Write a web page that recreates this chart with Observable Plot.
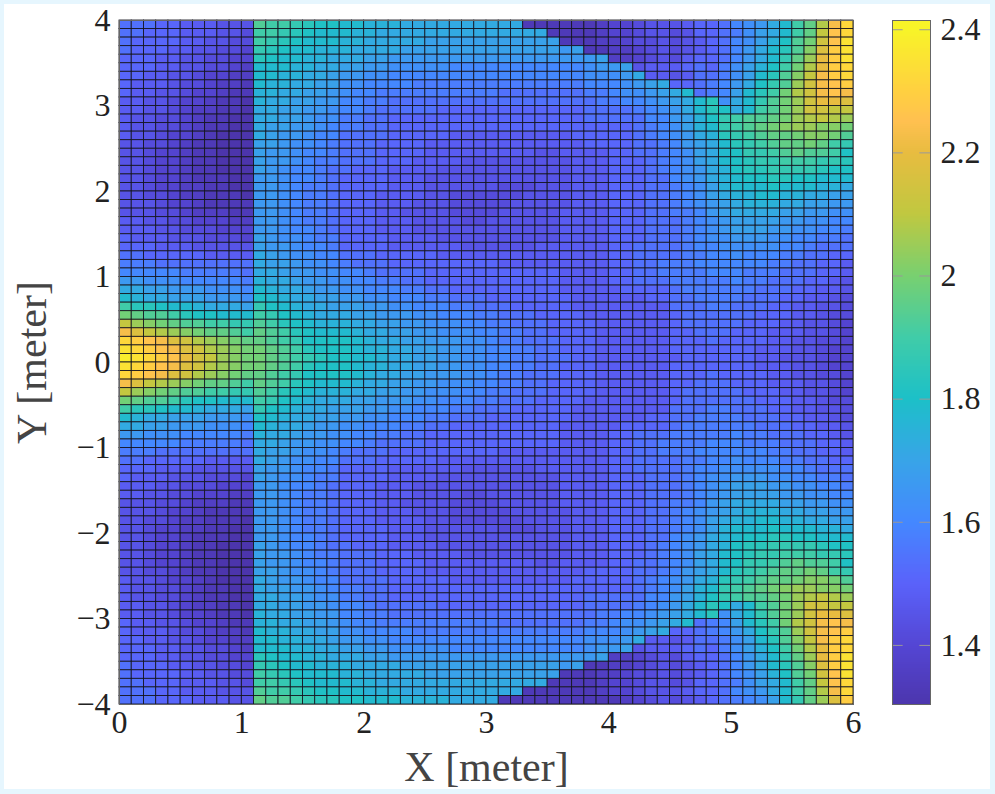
<!DOCTYPE html>
<html>
<head>
<meta charset="utf-8">
<script src="https://cdn.jsdelivr.net/npm/d3@7"></script>
<script src="https://cdn.jsdelivr.net/npm/@observablehq/plot@0.6"></script>
<style>
html,body{margin:0;padding:0;background:#e6f6fe;overflow:hidden}
#paper{position:absolute;left:4px;top:4px;width:986px;height:785px;background:#fff}
#chart{position:absolute;left:0;top:0;width:995px;height:794px}
#chart svg{position:absolute;background:transparent;max-width:none}
</style>
</head>
<body>
<div id="paper"></div>
<div id="chart"></div>
<script>
// Each row runs left to right, from y = 4 down to y = -4. One character per cell,
// indexing valueLevels below. Spaces only separate column groups.
const levelCodes = "0123456789abcdefghijklmnopqrstuvwxyzA";
const levelStart = 1.30, levelStep = 0.03;
const cellRows = [
"88877666555 lkkjihhgg fffeeeeeee eee1111112 3345556778 abcegkmqvy",
"88777666554 kkjihgggf feeeeeeeee eeeee11112 3345545778 9bdegkmrwy",
"87777665544 kjihgggff eeeeeddddd dddddd1112 2344545678 abdfhlnswz",
"87776655443 jihggfffe eeeddddddd ddddddcd11 2234545678 acegilotxz",
"77766554433 ihggffeee ddcccccccc cccccccccd 2234546778 acegjmpuxz",
"77766554432 gggffeedd ccbbbbbaaa aaaaaaaabc cd56667879 bdfhknquxy",
"77665543322 ggffeedcc bbaaaaaaaa aaaaaaaabb bce6656889 bdgilorvxy",
"76665443221 gffeeddbb aaaa999999 99999999aa abcde7789a cehjlpsvwx",
"76655433211 ffeeddcba a999999999 9888888899 abbcdeg89a dgiknqsvwv",
"66554332110 feeddccaa 9988888888 8888888889 9aabcdegib egjlnpsuut",
"66554322110 eeddccbaa 9888887777 7777777788 889abcegih egklnpssrr",
"65544321100 eeddcbb99 8877777777 7777777788 888aacdfhj kllmnpqrqp",
"65544321100 eddccba99 8877777777 7777777777 7789abdfgj klmnoppoon",
"65543321000 edccbaa88 8877777666 6666666777 7789abcefi jklmmnoonl",
"55443211000 ddcbba988 8777766666 6666666677 77889acdeg ijklmmnmkj",
"55433211000 dccbaa988 8777766666 6666556666 77889abdeg hjjklmllkh",
"55433211000 dccba9988 8777666655 5555555666 77789abdeg hijjkkkjji",
"55433211000 dcbaa9887 7766665555 5555555666 77789abcef hiijjjjihh",
"55433211100 ccbaa9877 7766655555 5555555666 77788abcef ghhiihhggg",
"55433221100 ccba99877 7766655555 5444555666 777889abdf ggghgggffe",
"55443221110 ccba99877 7666655444 4445555666 777889abde ffggffeedd",
"55543321111 ccba99877 7666555444 4455555666 777889abcd efffeeddcc",
"55544322211 ccba99877 7665555444 4555556666 7778899acd eeeeddccbb",
"66554433322 ccba99877 7666555544 5555556666 7778889abc ddddccbbaa",
"66655444333 ccbaa9877 7666555555 5555556666 7778889abc dddccbbaa9",
"76665554443 dcbba9977 7766665555 5555556666 7778889abb cccbbaa998",
"77766655555 dccbaa977 7766666655 5555666666 7788889aab bbbbaa9888",
"88777776666 edcbbaa88 8777776666 6666666666 77888899aa baaa998877",
"99988888888 eddcbba98 8877777777 7666666666 7788999aaa aaa9988776",
"aaaaa999998 eedccbbaa 9888877777 7777776666 77889999aa a999888776",
"ccbbbaaaaa9 feedccbba a998877777 7777776666 7788899999 a998887765",
"eeddcccbbba gfeedccbb aaa9988777 7777776666 6777789999 9988877665",
"gfeedddcccb hgfeeddcc bbaaa99888 7777777666 6667788999 9888776654",
"kiihggfeeed jhgfeeddd ccbbaaa998 8877777666 6666688899 8887766554",
"nmllkihhggg kjhgfeeed dcccbbaaa9 9888777766 6666678888 8877766544",
"rponmllkkjj lkihgfffe eddccbbbaa 9988877776 6666678888 8777665543",
"vtrqponmmlk mlkihgggf eeddccbbba a998877776 6666677888 7776665543",
"yxwvtsqponm mlkjhhhhg feeddcccbb a998887776 6666677787 7776655443",
"zyxwvtsqpon nmlkihhhg ffeeddccbb aa99887776 6666677777 7766655433",
"Azyxwusrpon nmlkjihhg gfeeddccbb aa99888776 6666667777 7766555433",
"zyxwvtsqpon nmlkihhhg ffeeddccbb aa99887776 6666677777 7766655433",
"yxwvtsqponm mlkjhhhhg feeddcccbb a998887776 6666677787 7776655443",
"vtrqponmmlk mlkihgggf eeddccbbba a998877776 6666677888 7776665543",
"rponmllkkjj lkihgfffe eddccbbbaa 9988877776 6666678888 8777665543",
"nmllkihhggg kjhgfeeed dcccbbaaa9 9888777766 6666678888 8877766544",
"kiihggfeeed jhgfeeddd ccbbaaa998 8877777666 6666688899 8887766554",
"gfeedddcccb hgfeeddcc bbaaa99888 7777777666 6667788999 9888776654",
"eeddcccbbba gfeedccbb aaa9988777 7777776666 6777789999 9988877665",
"ccbbbaaaaa9 feedccbba a998877777 7777776666 7788899999 a998887765",
"aaaaa999998 eedccbbaa 9888877777 7777776666 77889999aa a999888776",
"99988888888 eddcbba98 8877777777 7666666666 7788999aaa aaa9988776",
"88777776666 edcbbaa88 8777776666 6666666666 77888899aa baaa998877",
"77766655555 dccbaa977 7766666655 5555666666 7788889aab bbbbaa9888",
"76665554443 dcbba9977 7766665555 5555556666 7778889abb cccbbaa998",
"66655444333 ccbaa9877 7666555555 5555556666 7778889abc dddccbbaa9",
"66554433322 ccba99877 7666555544 5555556666 7778889abc ddddccbbaa",
"55544322211 ccba99877 7665555444 4555556666 7778899acd eeeeddccbb",
"55543321111 ccba99877 7666555444 4455555666 777889abcd efffeeddcc",
"55443221110 ccba99877 7666655444 4445555666 777889abde ffggffeedd",
"55433221100 ccba99877 7766655555 5444555666 777889abdf ggghgggffe",
"55433211100 ccbaa9877 7766655555 5555555666 77788abcef ghhiihhggg",
"55433211000 dcbaa9887 7766665555 5555555666 77789abcef hiijjjjihh",
"55433211000 dccba9988 8777666655 5555555666 77789abdeg hijjkkkjji",
"55433211000 dccbaa988 8777766666 6666556666 77889abdeg hjjklmllkh",
"55443211000 ddcbba988 8777766666 6666666677 77889acdeg ijklmmnmkj",
"65543321000 edccbaa88 8877777666 6666666777 7789abcefi jklmmnoonl",
"65544321100 eddccba99 8877777777 7777777777 7789abdfgj klmnoppoon",
"65544321100 eeddcbb99 8877777777 7777777788 888aacdfhj kllmnpqrqp",
"66554322110 eeddccbaa 9888887777 7777777788 889abcegih egklnpssrr",
"66554332110 feeddccaa 9988888888 8888888889 9aabcdegib egjlnpsuut",
"76655433211 ffeeddcba a999999999 9888888899 abbcdeg89a dgiknqsvwv",
"76665443221 gffeeddbb aaaa999999 99999999aa abcde7789a cehjlpsvwx",
"77665543322 ggffeedcc bbaaaaaaaa aaaaaaaabb bce6656889 bdgilorvxy",
"77766554432 gggffeedd ccbbbbbaaa aaaaaaaabc cd56667879 bdfhknquxy",
"77766554433 ihggffeee ddcccccccc cccccccccd 2234546778 acegjmpuxz",
"87776655443 jihggfffe eeeddddddd ddddddcd11 2234545678 acegilotxz",
"87777665544 kjihgggff eeeeeddddd dddddd1112 2344545678 abdfhlnswz",
"88777666554 kkjihgggf feeeeeeeee eeeee11112 3345545778 9bdegkmrwy",
"88877666555 lkkjihhgg fffeeeeeee eee1111112 3345556778 abcegkmqvy",
"88877766655 mllkjiihh gggffffeee e111111111 1234545678 9abdgjmptx"
];
const xTicks = [0, 1, 2, 3, 4, 5, 6];
const yTicks = [-4, -3, -2, -1, 0, 1, 2, 3, 4];
const barTicks = [1.4, 1.6, 1.8, 2.0, 2.2, 2.4];
const colorStops = [1.30, 1.40, 1.50, 1.60, 1.70, 1.80, 1.90, 2.00, 2.10, 2.20, 2.25, 2.30, 2.40];
const colorRange = ["#4c35ac", "#5446d4", "#5a62fa", "#4488ff", "#38a4e8", "#1cc0c8", "#40cca8", "#78d070", "#c0c840", "#e8bc40", "#ffc050", "#ffd040", "#f8f428"];
const barDomain = [1.304, 2.415];

const cols = 60, cw = 0.1, ch = 0.1;
const cells = [];
cellRows.forEach((s, r) => {
  const t = s.replace(/ /g, "");
  if (t.length !== cols) throw new Error("row " + r + " has " + t.length + " cells");
  [...t].forEach((k, c) => cells.push({
    x1: c * cw, x2: (c + 1) * cw,
    y1: 4 - r * ch, y2: 4 - (r + 1) * ch,
    v: levelStart + levelCodes.indexOf(k) * levelStep
  }));
});

const serif = "'Liberation Serif', 'Times New Roman', serif";
const fmt = d => String(d).replace("-", "\u2212");
const colorOpt = {type: "linear", domain: colorStops, range: colorRange, clamp: true};

const main = Plot.plot({
  width: 995, height: 794,
  marginLeft: 119, marginRight: 142, marginTop: 20, marginBottom: 90,
  style: {background: "transparent"},
  x: {domain: [0, 6]},
  y: {domain: [-4, 4]},
  color: colorOpt,
  marks: [
    Plot.rect(cells, {x1: "x1", x2: "x2", y1: "y1", y2: "y2", fill: "v", stroke: "#15151f", strokeWidth: 0.85}),
    Plot.frame({stroke: "#666", strokeWidth: 1}),
    Plot.axisX({ticks: xTicks, tickSize: 0, tickPadding: 6, label: null, fontSize: 32, fontFamily: serif, fill: "#222", tickFormat: fmt}),
    Plot.axisY({ticks: yTicks, tickSize: 0, tickPadding: 9, label: null, fontSize: 32, fontFamily: serif, fill: "#222", tickFormat: fmt}),
    Plot.text(["X [meter]"], {frameAnchor: "bottom", dy: 76, text: d => d, fontSize: 42, fontFamily: serif, fill: "#444"}),
    Plot.text(["Y [meter]"], {frameAnchor: "left", dx: -87, rotate: -90, textAnchor: "middle", text: d => d, fontSize: 42, fontFamily: serif, fill: "#444"})
  ]
});
main.style.left = "0px"; main.style.top = "0px";

const barN = 342;
const barLevels = d3.range(barN).map(i => ({
  y1: barDomain[0] + (barDomain[1] - barDomain[0]) * i / barN,
  y2: barDomain[0] + (barDomain[1] - barDomain[0]) * (i + 1) / barN
}));
const bar = Plot.plot({
  width: 103, height: 794,
  marginLeft: 0, marginRight: 65, marginTop: 20, marginBottom: 90,
  style: {background: "transparent"},
  x: {domain: [0, 1], axis: null},
  y: {domain: barDomain},
  color: colorOpt,
  marks: [
    Plot.rect(barLevels, {x1: 0, x2: 1, y1: "y1", y2: "y2", fill: d => (d.y1 + d.y2) / 2, shapeRendering: "crispEdges"}),
    Plot.ruleY(barTicks, {x1: 0, x2: 0.28, stroke: "#999", strokeWidth: 1}),
    Plot.ruleY(barTicks, {x1: 0.72, x2: 1, stroke: "#999", strokeWidth: 1}),
    Plot.frame({stroke: "#666", strokeWidth: 1}),
    Plot.axisY({anchor: "right", ticks: barTicks, tickSize: 0, tickPadding: 10, label: null, fontSize: 32, fontFamily: serif, fill: "#222", tickFormat: d => String(d)})
  ]
});
bar.style.left = "892px"; bar.style.top = "0px";

const chart = document.getElementById("chart");
chart.appendChild(main);
chart.appendChild(bar);
</script>
</body>
</html>
